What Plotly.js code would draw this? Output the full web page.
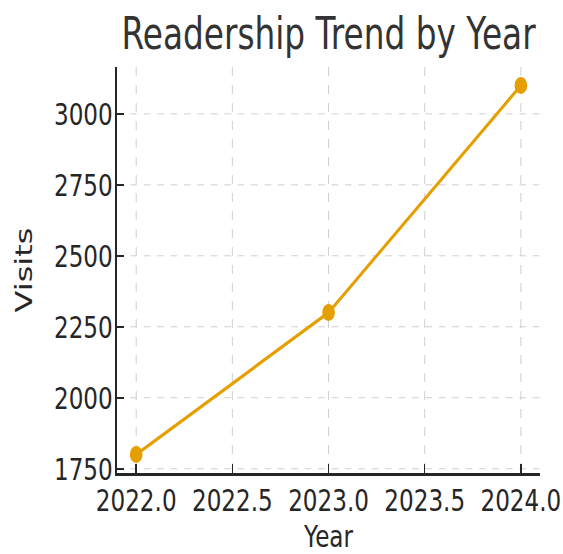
<!DOCTYPE html>
<html>
<head>
<meta charset="utf-8">
<script src="https://cdn.plot.ly/plotly-3.0.1.min.js"></script>
<style>
  html, body { margin: 0; padding: 0; background: #fff; overflow: hidden; width: 563px; height: 554px; }
  #chart { width: 756px; height: 554px; transform: scaleX(0.745); transform-origin: 0 0; }
</style>
</head>
<body>
<div id="chart"></div>
<script>
const years = [2022, 2023, 2024];
const visits = [1800, 2300, 3100];
const xTicks = [2022.0, 2022.5, 2023.0, 2023.5, 2024.0];
const xTickLabels = ["2022.0", "2022.5", "2023.0", "2023.5", "2024.0"];
const yTicks = [1750, 2000, 2250, 2500, 2750, 3000];
const yTickLabels = ["1750", "2000", "2250", "2500", "2750", "3000"];

const FONT = "DejaVu Sans, sans-serif";
const INK = "#262626";

const trace = {
  x: years,
  y: visits,
  type: "scatter",
  mode: "lines+markers",
  line: { color: "#E69F00", width: 3.5 },
  marker: { color: "#E69F00", size: 17 },
  hoverinfo: "skip"
};

const layout = {
  width: 756,
  height: 554,
  margin: { l: 157, r: 31, t: 67, b: 81 },
  paper_bgcolor: "#ffffff",
  plot_bgcolor: "#ffffff",
  showlegend: false,
  font: { family: FONT, color: INK },
  title: {
    text: "Readership Trend by Year",
    font: { family: FONT, size: 44, color: "#333333" },
    x: 0.5, xref: "paper", xanchor: "center",
    y: 1, yref: "container", yanchor: "top", pad: { t: 18 }
  },
  xaxis: {
    range: [2021.9, 2024.1],
    tickmode: "array",
    tickvals: xTicks,
    ticktext: xTickLabels,
    ticks: "inside", ticklen: 9, tickwidth: 2, tickcolor: INK,
    tickfont: { family: FONT, size: 31, color: INK },
    ticklabelstandoff: -2,
    showline: true, linecolor: INK, linewidth: 2.5, mirror: false,
    showgrid: true, gridcolor: "#c8c8c8", gridwidth: 1, griddash: "dash",
    zeroline: false,
    title: { text: "Year", font: { family: FONT, size: 31, color: INK }, standoff: 24 }
  },
  yaxis: {
    range: [1735, 3165],
    tickmode: "array",
    tickvals: yTicks,
    ticktext: yTickLabels,
    ticks: "inside", ticklen: 9, tickwidth: 2, tickcolor: INK,
    tickfont: { family: FONT, size: 31, color: INK },
    ticklabelstandoff: -3,
    showline: true, linecolor: INK, linewidth: 2.5, mirror: false,
    showgrid: true, gridcolor: "#c8c8c8", gridwidth: 1, griddash: "dash",
    zeroline: false,
    title: { text: "Visits", font: { family: FONT, size: 32, color: INK }, standoff: 20 }
  }
};

Plotly.newPlot("chart", [trace], layout, { displayModeBar: false, staticPlot: true });
</script>
</body>
</html>
